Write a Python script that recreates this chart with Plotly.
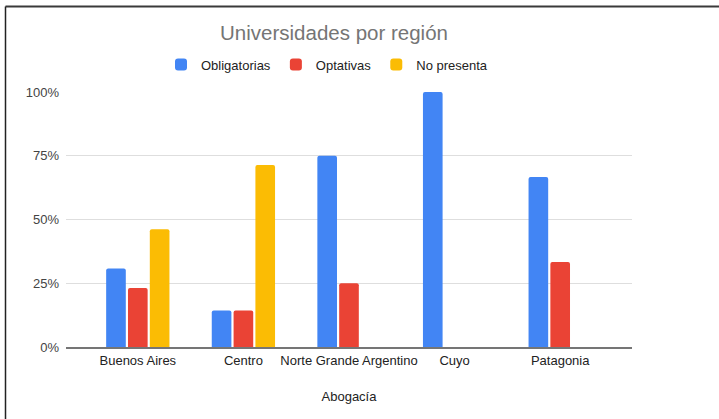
import plotly.graph_objects as go

categories = ["Buenos Aires", "Centro", "Norte Grande Argentino", "Cuyo", "Patagonia"]
obligatorias = [0.308, 0.143, 0.75, 1.0, 0.667]
optativas = [0.231, 0.143, 0.25, 0.0, 0.333]
no_presenta = [0.462, 0.714, 0.0, 0.0, 0.0]
series_names = ["Obligatorias", "Optativas", "No presenta"]
colors = ["#4285F4", "#EA4335", "#FBBC04"]
y_ticks = [0, 0.25, 0.5, 0.75, 1.0]

FONT = "Arial, Liberation Sans, sans-serif"

fig = go.Figure()
for name, vals, col in zip(series_names, [obligatorias, optativas, no_presenta], colors):
    fig.add_trace(go.Bar(
        x=categories, y=vals, name=name,
        marker=dict(color=col, line=dict(width=0), cornerradius=2),
        hoverinfo="skip",
    ))

W, H = 719, 419
L, R, T, B = 66, 87, 92, 72
pw, ph = W - L - R, H - T - B

def px_x(p):
    return (p - L) / pw

def px_y(p):
    return (H - B - p) / ph

fig.update_layout(
    width=W, height=H,
    margin=dict(l=L, r=R, t=T, b=B, autoexpand=False),
    paper_bgcolor="white", plot_bgcolor="white",
    barmode="group", bargap=0.38, bargroupgap=0.1,
    font=dict(family=FONT, size=13, color="#444444"),
    title=dict(
        text="Universidades por región",
        font=dict(family=FONT, size=20.5, color="#757575"),
        xref="paper", x=px_x(334), xanchor="center",
        yref="container", y=1 - 33 / H, yanchor="middle",
    ),
    showlegend=True,
    legend=dict(
        orientation="h", xref="paper", x=px_x(327), xanchor="center",
        yref="paper", y=px_y(64.5), yanchor="middle",
        font=dict(family=FONT, size=13, color="#222222"),
        itemwidth=30, tracegroupgap=0,
    ),
    xaxis=dict(
        range=[-0.68, 4.68], showgrid=False, zeroline=False,
        showline=True, linecolor="#757575", linewidth=1.5,
        ticks="", ticklabelstandoff=1,
        tickfont=dict(family=FONT, size=13, color="#222222"),
        title=dict(text="Abogacía", standoff=25,
                   font=dict(family=FONT, size=13, color="#222222")),
        automargin=False, fixedrange=True,
    ),
    yaxis=dict(
        range=[0, 1.0], tickvals=y_ticks, tickformat=".0%",
        showgrid=True, gridcolor="#dedede", gridwidth=1,
        zeroline=False, showline=False, ticks="",
        ticklabelstandoff=6,
        tickfont=dict(family=FONT, size=13, color="#444444"),
        automargin=False, fixedrange=True,
    ),
)

# decorative frame (screenshot border at top and left)
fig.add_shape(type="line", xref="paper", yref="paper",
              x0=px_x(5.5), x1=px_x(722), y0=px_y(6.5), y1=px_y(6.5),
              line=dict(color="#3a3a3a", width=2), layer="above")
fig.add_shape(type="line", xref="paper", yref="paper",
              x0=px_x(5.5), x1=px_x(5.5), y0=px_y(6.5), y1=px_y(425),
              line=dict(color="#222222", width=1.5), layer="above")

fig.write_html(
    "out.html",
    config=dict(displayModeBar=False),
    post_script="document.body.style.margin='0';document.body.style.overflow='hidden';",
)
